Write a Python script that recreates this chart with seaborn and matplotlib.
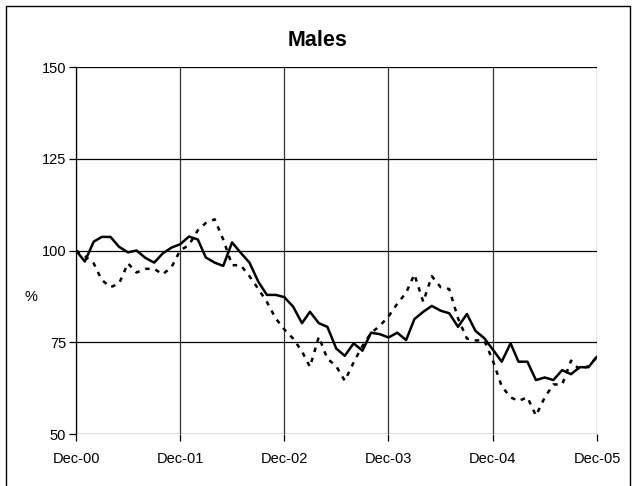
import pandas as pd
import seaborn as sns
import matplotlib.pyplot as plt
from matplotlib.patches import Rectangle

# monthly index values, Dec-00 .. Dec-05
months = pd.date_range('2000-12-01', periods=61, freq='MS')

solid = [100, 97, 102.4, 103.7, 103.7, 101, 99.5, 100, 98, 96.7, 99.2, 100.8,
         101.7, 103.8, 103, 98.1, 96.7, 95.8, 102.2, 99.4, 96.7, 91.5, 87.9, 87.9,
         87.3, 84.7, 80.2, 83.3, 80.2, 79.2, 73.3, 71.3, 74.7, 72.7, 77.6, 77.2,
         76.3, 77.6, 75.6, 81.3, 83.3, 84.9, 83.6, 82.9, 79.2, 82.7, 78.1, 76.1,
         73, 69.7, 74.7, 69.7, 69.7, 64.7, 65.4, 64.7, 67.4, 66.3, 68.2, 68.2,
         71.1]

dotted = [100, 98.5, 96.5, 92, 90, 91, 96.5, 94, 95, 95, 93.5, 95.5,
          100, 101.5, 105.5, 107.5, 108.5, 103, 96, 96, 93, 89.5, 86, 81.5,
          78.5, 76, 72.5, 68.3, 76.5, 70.5, 68.5, 64.5, 69.5, 74, 77.5, 79.5,
          82, 85.5, 88.5, 93.5, 86, 93, 90, 89.5, 81.5, 76, 75.5, 75.5,
          70, 63, 60, 59, 60, 55, 60, 63.5, 63.5, 70, 67.5, 68.5,
          71]

tick_dates = pd.to_datetime(['2000-12-01', '2001-12-01', '2002-12-01',
                             '2003-12-01', '2004-12-01', '2005-12-01'])
tick_labels = ['Dec-00', 'Dec-01', 'Dec-02', 'Dec-03', 'Dec-04', 'Dec-05']
y_ticks = [50, 75, 100, 125, 150]

df = pd.DataFrame({'month': months, 'solid': solid, 'dotted': dotted})

sns.set_style('white')
plt.rcParams['font.family'] = ['Liberation Sans', 'DejaVu Sans']
plt.rcParams['text.color'] = 'black'
plt.rcParams['axes.labelcolor'] = 'black'
plt.rcParams['xtick.labelcolor'] = 'black'
plt.rcParams['ytick.labelcolor'] = 'black'

fig = plt.figure(figsize=(6.35, 4.86), dpi=100)
ax = fig.add_axes([76 / 635, 1 - 434 / 486, (597 - 76) / 635, (434 - 67) / 486])

sns.lineplot(data=df, x='month', y='dotted', ax=ax, color='black',
             linewidth=1.8, linestyle=(0, (1.8, 2.4)))
sns.lineplot(data=df, x='month', y='solid', ax=ax, color='black',
             linewidth=1.8)

ax.set_xlim(months[0], months[-1])
ax.set_ylim(50, 150)
ax.set_xticks(tick_dates)
ax.set_xticklabels(tick_labels)
ax.set_yticks(y_ticks)
ax.set_xlabel('')
ax.set_ylabel('%', rotation=0, fontsize=10.5, va='center', ha='center')
ax.yaxis.set_label_coords((31 - 76) / 521, 1 - (297 - 67) / 367)

for y in y_ticks:
    ax.axhline(y, color='black', linewidth=0.9, zorder=0)
for d in tick_dates:
    ax.axvline(d, color='#333333', linewidth=0.9, zorder=0)

for side in ['top', 'right', 'bottom']:
    ax.spines[side].set_visible(False)
ax.spines['left'].set_color('black')
ax.spines['left'].set_linewidth(0.9)

ax.tick_params(axis='both', direction='out', length=5, width=0.9,
               color='black', labelcolor='black', labelsize=10.5,
               left=True, bottom=True)
ax.tick_params(axis='x', pad=8)
ax.tick_params(axis='y', pad=2)

fig.text(318 / 635, 1 - 40 / 486, 'Males', fontsize=15.5, fontweight='bold',
         ha='center', va='center', color='black')

fig.patches.append(Rectangle((6 / 635, -0.02), (630 - 6) / 635, 1 - 6 / 486 + 0.02,
                             transform=fig.transFigure, fill=False,
                             edgecolor='black', linewidth=1.0))

fig.savefig('out.png', dpi=100)
